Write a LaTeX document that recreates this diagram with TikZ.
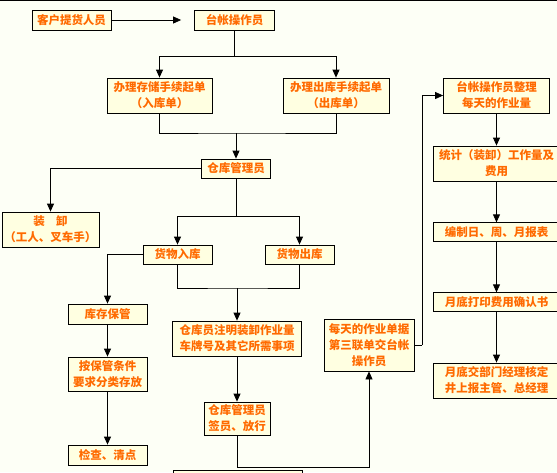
\documentclass[tikz,border=0pt]{standalone}
\usepackage{fontspec}
\setmainfont{Noto Sans CJK SC}
\usetikzlibrary{arrows.meta, positioning}
\definecolor{paper}{HTML}{FDFFF6}
\definecolor{boxfill}{HTML}{FFFFE1}
\definecolor{txtorange}{HTML}{FF6A00}

\tikzset{
  box/.style={draw=black, line width=0.8pt, fill=boxfill, text=txtorange,
    align=center, inner sep=0pt, font=\fontsize{11.5}{16}\selectfont\bfseries},
  arr/.style={-{Triangle[length=8pt,width=7pt]}, line width=0.8pt},
  ln/.style={line width=0.8pt}
}

\begin{document}
\begin{tikzpicture}[x=1pt,y=-1pt]
	% Fondo y marco
	\useasboundingbox (0,0) rectangle (557,472);
	\clip (0,0) rectangle (557,472);
	\fill[paper] (0,0) rectangle (557,472);
	\draw[line width=1pt] (0,0.5) -- (557,0.5);
	
	% Cajas de la columna central
	\node[box, minimum width=79pt, minimum height=20pt] (kehu) at (71.5,20) {客户提货人员};
	\node[box, minimum width=80pt, minimum height=20pt] (taizhang) at (234.5,20) {台帐操作员};
	\node[box, minimum width=105pt, minimum height=35pt] (ruku) at (159.5,95.5) {办理存储手续起单\\（入库单）};
	\node[box, minimum width=106pt, minimum height=35pt] (chuku) at (336,95.5) {办理出库手续起单\\（出库单）};
	\node[box, minimum width=69pt, minimum height=19pt] (cangguan) at (236,168.5) {仓库管理员};
	\node[box, minimum width=97pt, minimum height=35pt] (zhuangxie) at (50.5,229.5) {装\hspace{1em}卸\\（工人、叉车手）};
	\node[box, minimum width=69pt, minimum height=19pt] (huoru) at (177.5,254.5) {货物入库};
	\node[box, minimum width=69pt, minimum height=19pt] (huochu) at (299.5,254.5) {货物出库};
	\node[box, minimum width=79pt, minimum height=20pt] (kucun) at (107.5,314) {库存保管};
	\node[box, minimum width=79pt, minimum height=34pt] (anbao) at (107.5,374) {按保管条件\\要求分类存放};
	\node[box, minimum width=79pt, minimum height=20pt] (jiancha) at (107.5,455) {检查、清点};
	\node[box, minimum width=129pt, minimum height=35pt] (zhuming) at (237,338.5) {仓库员注明装卸作业量\\车牌号及其它所需事项};
	\node[box, minimum width=66pt, minimum height=33pt] (qianyuan) at (237,418.5) {仓库管理员\\签员、放行};
	\node[box, minimum width=129pt, minimum height=30pt, anchor=north] (abajo) at (237.5,469.5) {};
	\node[box, minimum width=90pt, minimum height=52pt] (meitian) at (369,345) {每天的作业单据\\第三联单交台帐\\操作员};
	
	% Cajas de la columna derecha
	\node[box, minimum width=106pt, minimum height=35pt] (zhengli) at (496.5,95.5) {台帐操作员整理\\每天的作业量};
	\node[box, minimum width=127pt, minimum height=35pt] (tongji) at (496.5,163.5) {统计（装卸）工作量及\\费用};
	\node[box, minimum width=127pt, minimum height=18.5pt] (bianzhi) at (496.5,232) {编制日、周、月报表};
	\node[box, minimum width=127pt, minimum height=18.5pt] (dayin) at (496.5,302) {月底打印费用确认书};
	\node[box, minimum width=127pt, minimum height=35pt] (hexiao) at (496.5,380.5) {月底交部门经理核定\\井上报主管、总经理};
	
	% Puntos de union
	\coordinate (j1) at (234.5,56);
	\coordinate (j2) at (236,133);
	\coordinate (j3) at (236,216);
	\coordinate (j4) at (237,288);
	\coordinate (j5) at (237,467);
	\coordinate (j6) at (422,345);
	
	% Conexiones
	\draw[arr, shorten >=13pt] (kehu) -- (taizhang);
	\draw[ln] (taizhang.south) -- (j1);
	\draw[arr] (j1) -| (ruku.north);
	\draw[arr] (j1) -| (chuku.north);
	\draw[ln] (ruku.south) |- (j2) -| (chuku.south);
	\draw[arr] (j2) -- (cangguan.north);
	\draw[arr] (cangguan.west) -| (zhuangxie.north);
	\draw[ln] (cangguan.south) -- (j3);
	\draw[arr] (j3) -| (huoru.north);
	\draw[arr] (j3) -| (huochu.north);
	\draw[arr] (huoru.west) -| (kucun.north);
	\draw[arr] (kucun) -- (anbao);
	\draw[arr] (anbao) -- (jiancha);
	\draw[ln] (huoru.south) |- (j4) -| (huochu.south);
	\draw[arr] (j4) -- (zhuming.north);
	\draw[arr] (zhuming) -- (qianyuan);
	\draw[ln] (qianyuan.south) -- (j5);
	\draw[arr] (j5) -| (meitian.south);
	\draw[ln] (meitian.east) -- (j6);
	\draw[arr] (j6) |- (zhengli.west);
	\draw[arr] (zhengli) -- (tongji);
	\draw[arr] (tongji) -- (bianzhi);
	\draw[arr] (bianzhi) -- (dayin);
	\draw[arr] (dayin) -- (hexiao);
\end{tikzpicture}
\end{document}
